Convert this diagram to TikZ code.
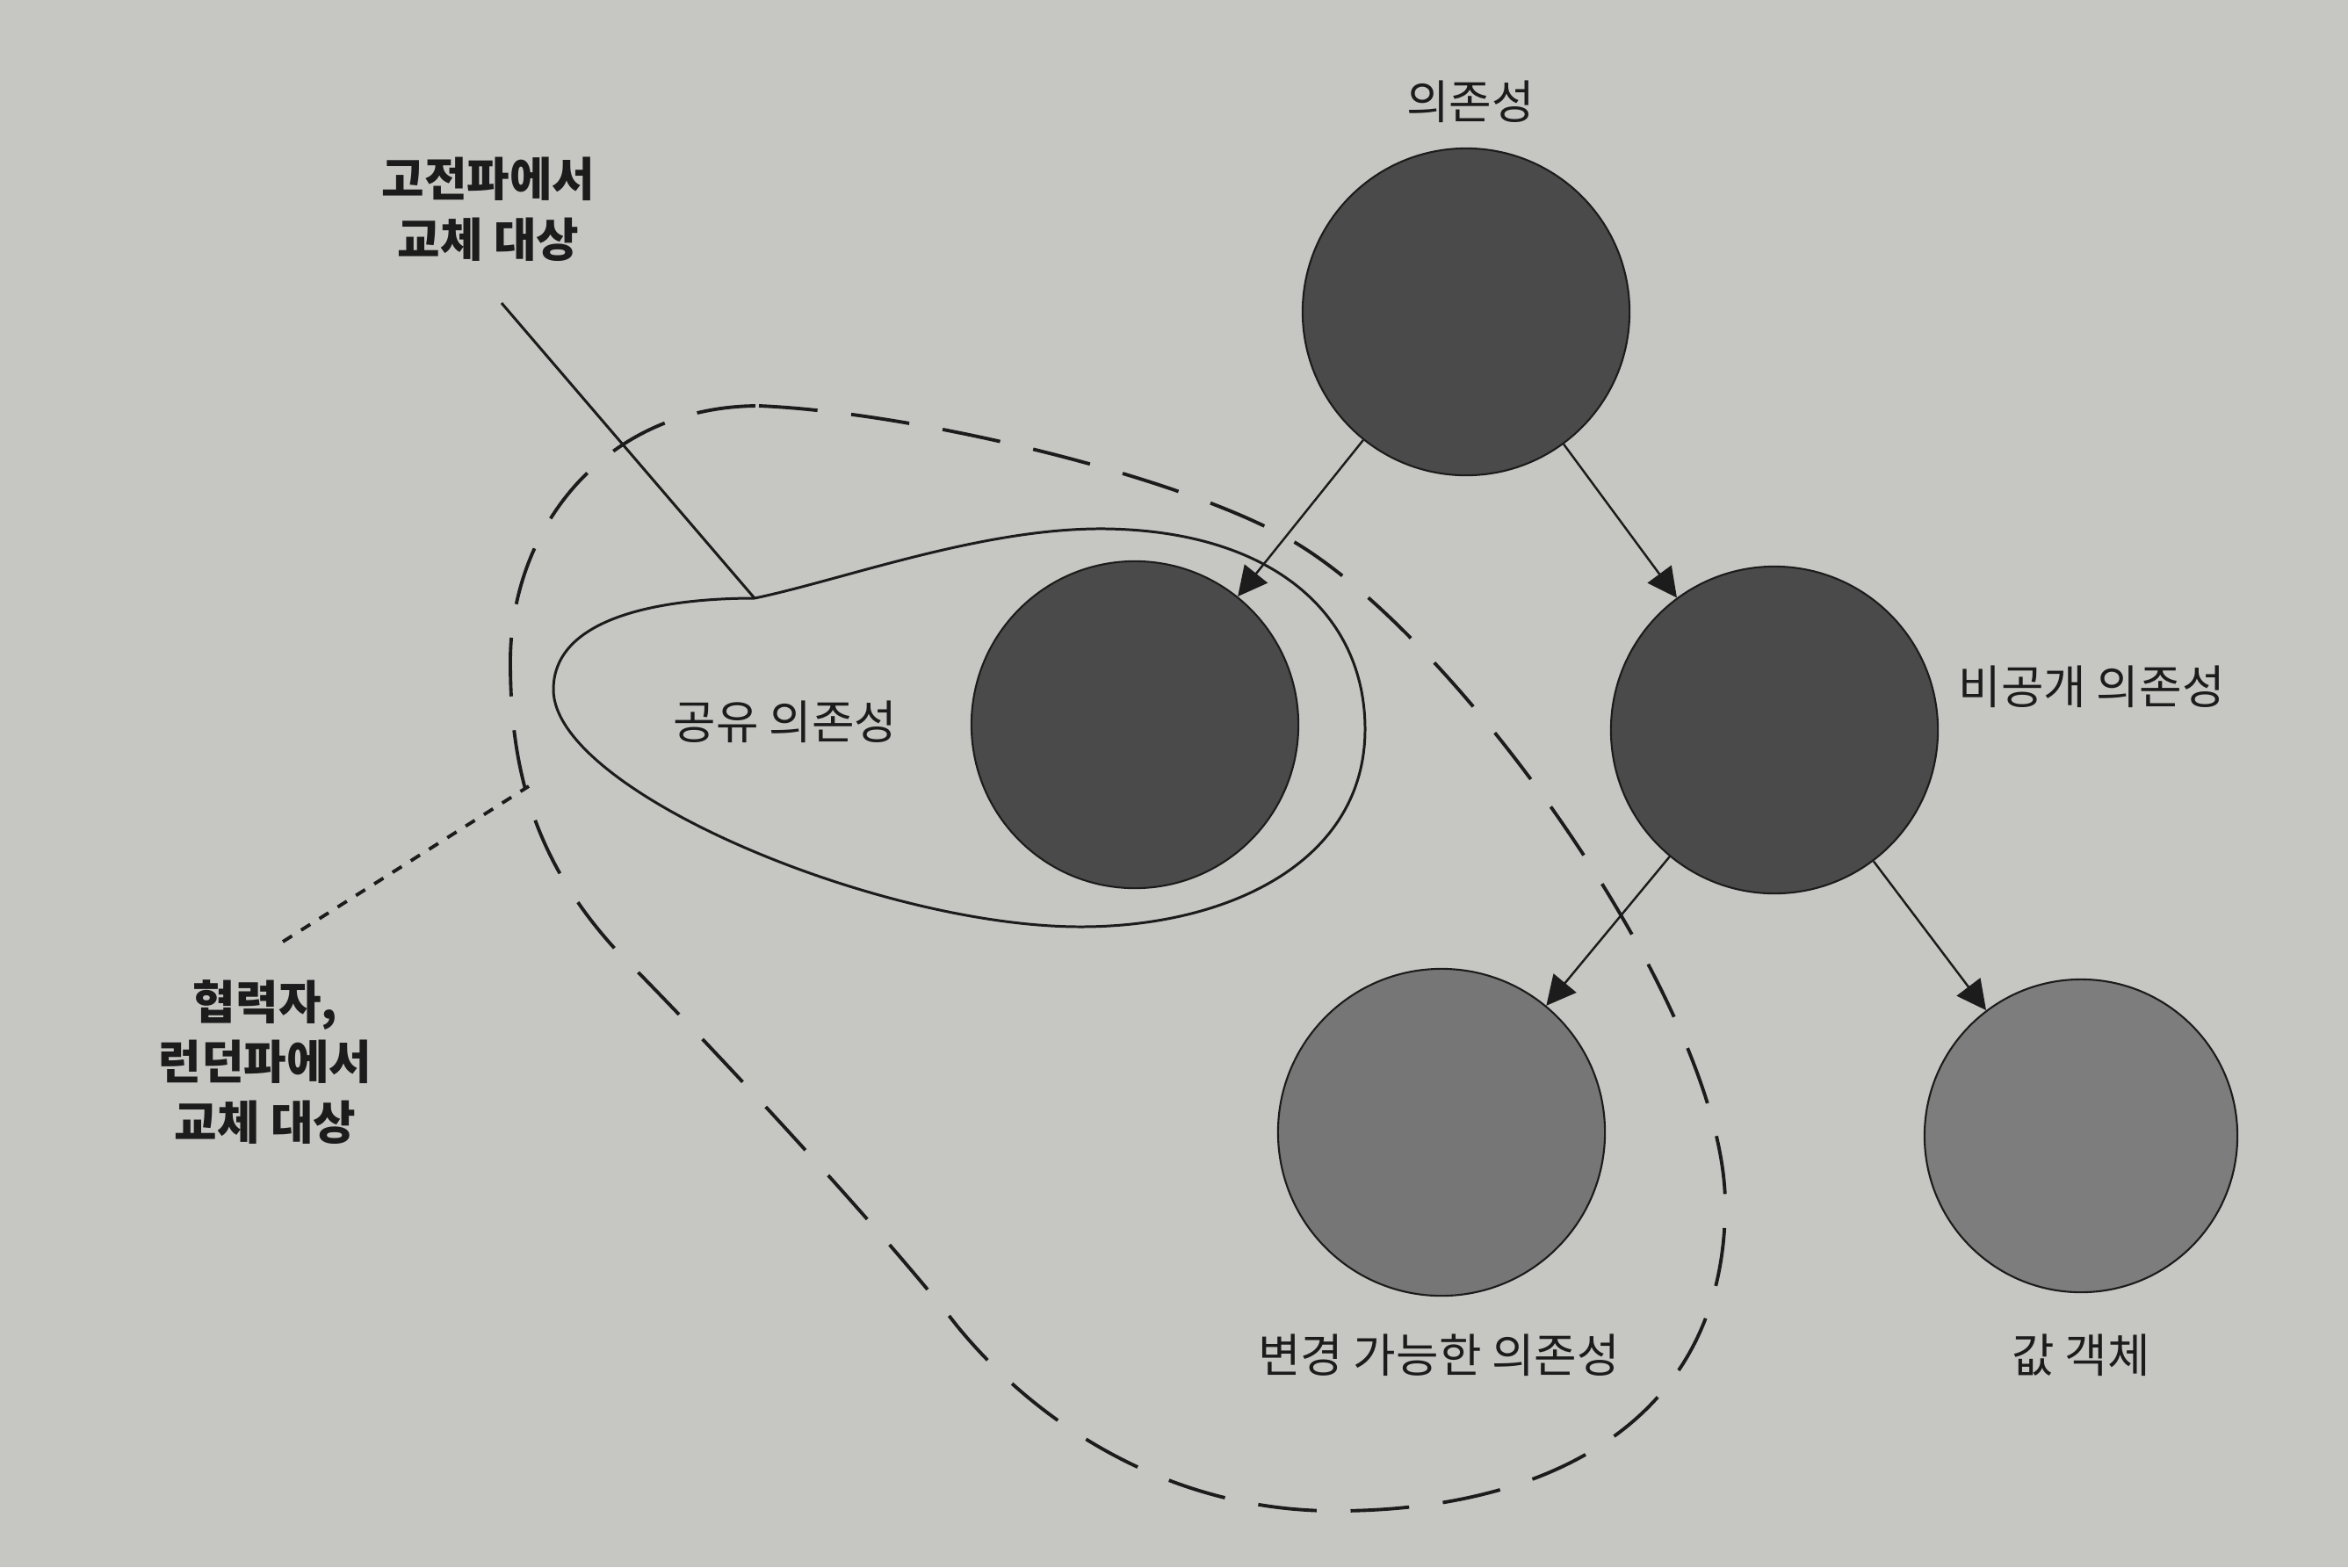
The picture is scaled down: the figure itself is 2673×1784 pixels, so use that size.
\documentclass[tikz,border=0pt]{standalone}
\usepackage{fontspec}
\setmainfont{Noto Sans CJK KR}
\usepackage{tikz}
\usetikzlibrary{arrows.meta}

\definecolor{paper}{RGB}{198,198,195}
\definecolor{ink}{RGB}{28,28,28}
\definecolor{darkdep}{RGB}{74,74,74}
\definecolor{greydep}{RGB}{118,118,118}

\tikzset{
    dep/.style={circle, draw=ink, line width=0.6pt, inner sep=0pt, minimum size=3.72cm},
    lbl/.style={font=\fontsize{15}{18}\selectfont, text=ink},
    note/.style={font=\fontsize{15}{19.5}\selectfont\bfseries, text=ink, align=center},
    link/.style={-{Triangle[length=9.5pt,width=9.5pt]}, line width=0.7pt, draw=ink},
}

\begin{document}
\begin{tikzpicture}[x=0.01cm, y=-0.01cm]
        \fill[paper] (0,0) rectangle (2673,1784); % the page
        \useasboundingbox (0,0) rectangle (2673,1784);

        % outer dashed region (London school)
        \draw[ink, line width=1.1pt, dash pattern=on 19pt off 11pt]
            (864,462) .. controls (1050,470) and (1350,545) .. (1470,615)
            .. controls (1660,725) and (1964,1150) .. (1964,1371)   % right side
            .. controls (1964,1620) and (1760,1720) .. (1520,1720)  % bottom
            .. controls (1330,1720) and (1180,1620) .. (1090,1510)
            .. controls (1000,1395) and (800,1180) .. (700,1080)
            .. controls (600,970) and (581,860) .. (581,753)        % left side
            .. controls (581,600) and (690,462) .. cycle;

        % inner solid region (classical school)
        \draw[ink, line width=0.85pt]
            (859,681) .. controls (960,660) and (1120,600) .. (1260,602)
            .. controls (1450,605) and (1554,700) .. (1554,830)
            .. controls (1554,980) and (1400,1055) .. (1230,1055)
            .. controls (1000,1055) and (630,900) .. (630,785)
            .. controls (630,700) and (760,681) .. cycle;

        % the dependencies
        \node[dep, fill=darkdep] (dep) at (1669,355) {};
        \node[dep, fill=darkdep] (shared) at (1292,825) {};
        \node[dep, fill=darkdep] (private) at (2020,831) {};
        \node[dep, fill=greydep] (mutable) at (1641,1289) {};
        \node[dep, fill=greydep!95!white, minimum size=3.56cm] (value) at (2369,1293) {};

        \draw[link] (dep) -- (shared);
        \draw[link] (dep) -- (private);
        \draw[link] (private) -- (mutable);
        \draw[link] (private) -- (value);

        \node[lbl] (deplbl) at (1674,116) {의존성};
        \node[lbl] (sharedlbl) at (894,822) {공유 의존성};
        \node[lbl] (privatelbl) at (2381,782) {비공개 의존성};
        \node[lbl] (mutablelbl) at (1638,1543) {변경 가능한 의존성};
        \node[lbl] (valuelbl) at (2369,1543) {값 객체};

        % callouts
        \node[note] (classic) at (556,238) {고전파에서\\교체 대상};
        \node[note] (london) at (302,1209) {협력자,\\런던파에서\\교체 대상};
        \coordinate (classicfrom) at (571,345);
        \coordinate (classicto) at (859,681);
        \coordinate (londonfrom) at (322,1072);
        \coordinate (londonto) at (602,895);
        \draw[ink, line width=0.85pt] (classicfrom) -- (classicto);
        \draw[ink, line width=1.1pt, dash pattern=on 3.5pt off 3.5pt] (londonfrom) -- (londonto);
\end{tikzpicture}
\end{document}
